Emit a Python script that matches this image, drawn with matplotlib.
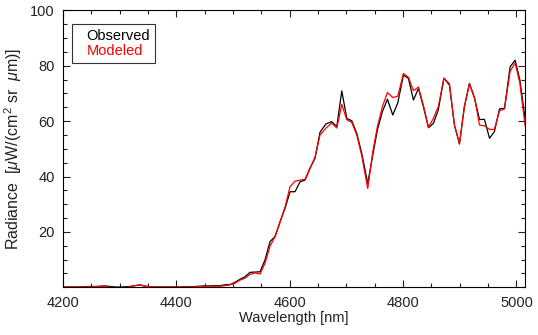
import matplotlib
matplotlib.use("Agg")
import matplotlib.pyplot as plt
from matplotlib.ticker import MultipleLocator

plt.rcParams['font.family'] = ['Liberation Sans', 'DejaVu Sans']
plt.rcParams['mathtext.fontset'] = 'custom'
plt.rcParams['mathtext.it'] = 'Liberation Sans:italic'
plt.rcParams['mathtext.rm'] = 'Liberation Sans'

wavelength = [4195, 4204, 4213, 4221, 4230, 4239, 4248, 4257, 4265, 4274,
              4283, 4292, 4301, 4310, 4318, 4327, 4336, 4345, 4354, 4362,
              4371, 4380, 4389, 4398, 4407, 4415, 4424, 4433, 4442, 4451,
              4459, 4468, 4477, 4486, 4495, 4503.5, 4512.3, 4521.1, 4529.9, 4538.8,
              4547.6, 4556.4, 4565.2, 4574, 4582.9, 4591.7, 4600.5, 4609.3, 4618.1, 4627,
              4635.8, 4644.6, 4653.4, 4664, 4674, 4683, 4691.8, 4700.6, 4709.4, 4718.2,
              4727, 4737.6, 4746.5, 4754.6, 4763.4, 4772.3, 4781.8, 4790.6, 4800.5, 4809.4,
              4818.2, 4827, 4836, 4844.7, 4853.5, 4862, 4872, 4881.7, 4890.5, 4899.4,
              4908, 4917, 4926, 4934.7, 4943.5, 4952.4, 4961, 4970, 4978.8, 4988.8,
              4997.6, 5006, 5015]

observed = [0.0, 0.1, 0.1, 0.1, 0.1, 0.2, 0.3, 0.3, 0.4, 0.5,
            0.3, 0.1, 0.1, 0.2, 0.3, 0.6, 0.8, 0.4, 0.2, 0.1,
            0.1, 0.1, 0.1, 0.1, 0.1, 0.2, 0.2, 0.3, 0.4, 0.5,
            0.5, 0.6, 0.6, 0.9, 1.0, 1.8, 2.9, 3.8, 5.4, 5.5,
            5.6, 9.9, 16.5, 18.3, 23.7, 28.5, 34.5, 34.5, 38.1, 38.7,
            43.0, 46.6, 56.0, 59.0, 59.8, 58.0, 70.9, 61.0, 60.1, 55.6,
            48.4, 37.5, 47.8, 56.8, 63.4, 67.9, 62.2, 66.6, 76.6, 75.4,
            67.6, 71.8, 65.0, 57.6, 59.2, 64.0, 75.5, 73.0, 58.6, 51.7,
            65.2, 73.6, 68.2, 60.6, 60.6, 53.8, 56.2, 64.4, 64.6, 79.6,
            82.0, 74.8, 61.0]

modeled = [0.0, 0.1, 0.1, 0.1, 0.1, 0.1, 0.2, 0.2, 0.3, 0.3,
           0.0, -0.3, -0.3, -0.1, 0.2, 0.6, 0.9, 0.4, 0.2, 0.1,
           0.1, 0.1, 0.1, 0.1, 0.1, 0.1, 0.2, 0.2, 0.3, 0.3,
           0.4, 0.4, 0.4, 0.6, 0.9, 1.5, 2.6, 3.3, 4.7, 5.2,
           4.8, 8.7, 14.8, 18.3, 23.5, 29.0, 36.3, 38.3, 38.7, 39.0,
           43.0, 47.0, 55.0, 57.5, 59.3, 57.5, 66.0, 60.5, 59.5, 55.0,
           47.5, 35.7, 49.0, 58.0, 65.2, 70.3, 68.5, 69.0, 77.2, 75.8,
           71.0, 72.3, 65.5, 57.8, 61.0, 65.2, 75.5, 73.5, 58.6, 52.0,
           65.0, 73.5, 68.5, 58.6, 58.3, 57.0, 57.0, 63.7, 64.4, 78.0,
           81.0, 73.6, 58.6]

xticks = [4200, 4400, 4600, 4800, 5000]
yticks = [20, 40, 60, 80, 100]

fig = plt.figure(figsize=(5.38, 3.35), dpi=100)
ax = fig.add_axes([63/538, 1 - 287.3/335, 462/538, 277/335])

ax.plot(wavelength, observed, color='black', lw=0.9, label='Observed')
ax.plot(wavelength, modeled, color='red', lw=0.9, label='Modeled')

ax.set_xlim(4200, 5015)
ax.set_ylim(0, 100)
ax.set_xticks(xticks)
ax.set_xticklabels([str(t) for t in xticks])
ax.set_yticks(yticks)
ax.set_yticklabels([str(t) for t in yticks])
ax.xaxis.set_minor_locator(MultipleLocator(50))
ax.yaxis.set_minor_locator(MultipleLocator(5))
ax.tick_params(which='both', direction='in', top=True, right=True,
               labelsize=10.5, width=0.8, pad=6, colors='#222222')
ax.tick_params(which='major', length=5)
ax.tick_params(which='minor', length=3)
for s in ax.spines.values():
    s.set_linewidth(0.8)

ax.set_xlabel('Wavelength [nm]', fontsize=10.5, labelpad=1, color='#222222')
ax.set_ylabel(r'Radiance  [$\mu$W/(cm$^{2}$ sr  $\mu$m)]', fontsize=11.5,
              labelpad=4, color='#222222')

leg = ax.legend(loc='upper left', bbox_to_anchor=(9/462, 1 - 14/277),
                borderaxespad=0, handlelength=0.5, handletextpad=0.2,
                fontsize=10.5, frameon=True, fancybox=False,
                labelcolor=['black', 'red'], borderpad=0.3, labelspacing=0.12)
for h in leg.legend_handles:
    h.set_visible(False)
leg.get_frame().set_edgecolor('black')
leg.get_frame().set_linewidth(0.8)

fig.savefig('out.png', dpi=100)
